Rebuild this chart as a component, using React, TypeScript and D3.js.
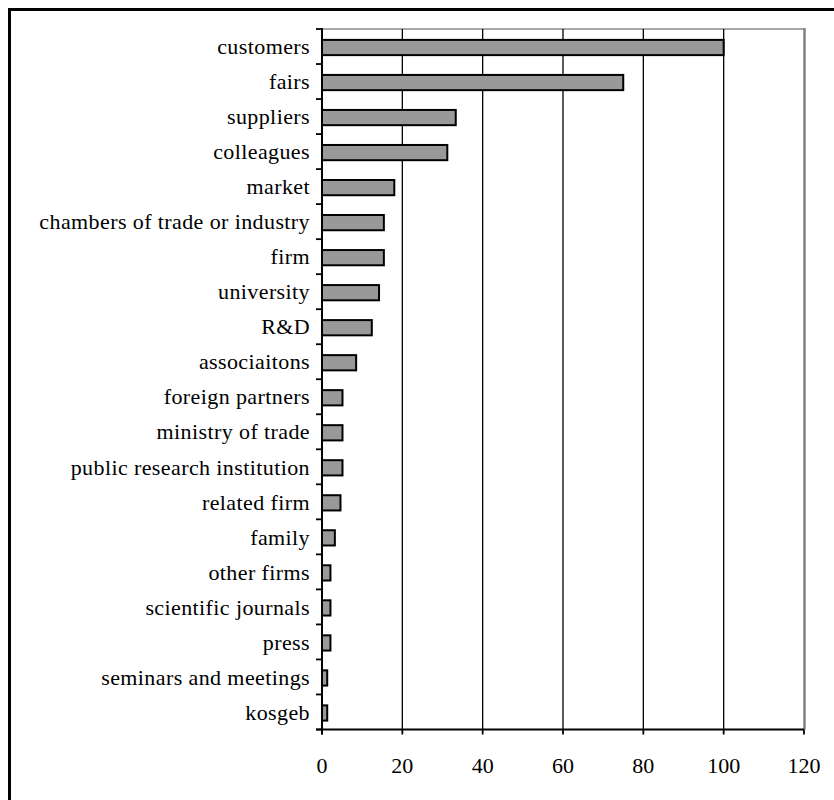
import React from "react";
import * as d3 from "d3";

const categories = [
  "customers",
  "fairs",
  "suppliers",
  "colleagues",
  "market",
  "chambers of trade or industry",
  "firm",
  "university",
  "R&D",
  "associaitons",
  "foreign partners",
  "ministry of trade",
  "public research institution",
  "related firm",
  "family",
  "other firms",
  "scientific journals",
  "press",
  "seminars and meetings",
  "kosgeb",
];
const values = [100, 75, 33.3, 31.2, 18, 15.4, 15.4, 14.2, 12.4, 8.5, 5.1, 5.1, 5.1, 4.6, 3.2, 2.1, 2.1, 2.1, 1.3, 1.3];
const xTicks = [0, 20, 40, 60, 80, 100, 120];

const W = 834;
const H = 800;
const left = 322;
const right = 804;
const top = 29;
const bottom = 729.5;
const font = "'Liberation Serif', 'Times New Roman', serif";

export default function App() {
  const x = d3.scaleLinear().domain([0, 120]).range([left, right]);
  const y = d3.scaleBand<string>().domain(categories).range([top, bottom]).paddingInner(0).paddingOuter(0);
  const bw = y.bandwidth();
  const barH = bw / 2.3;

  return (
    <svg width={W} height={H} style={{ position: "absolute", left: 0, top: 0 }}>
      <rect x={0} y={0} width={W} height={H} fill="#fff" />
      <rect x={9.5} y={9.5} width={W + 20} height={H + 20} fill="none" stroke="#000" strokeWidth={3} />
      {/* plot border top (light grey) and right (grey) */}
      <line x1={left} x2={right} y1={top} y2={top} stroke="#a8a8a8" strokeWidth={2} />
      <line x1={right + 0.5} x2={right + 0.5} y1={top - 1} y2={bottom} stroke="#808080" strokeWidth={2.5} />
      {/* gridlines */}
      {xTicks.slice(1, -1).map((t) => (
        <line key={"g" + t} x1={x(t)} x2={x(t)} y1={top} y2={bottom} stroke="#000" strokeWidth={1.3} />
      ))}
      {/* bars */}
      {categories.map((c, i) => (
        <rect
          key={c}
          x={x(0)}
          y={(y(c) as number) + bw / 2 - barH / 2 + 1}
          width={x(values[i]) - x(0)}
          height={barH}
          fill="#999999"
          stroke="#000"
          strokeWidth={2}
        />
      ))}
      {/* y axis */}
      <line x1={left} x2={left} y1={top - 1} y2={bottom + 5} stroke="#000" strokeWidth={2} />
      {d3.range(categories.length + 1).map((i) => {
        const yy = top + i * bw;
        return <line key={"yt" + i} x1={left - 6} x2={left} y1={yy} y2={yy} stroke="#000" strokeWidth={1.8} />;
      })}
      {categories.map((c) => (
        <text
          key={"l" + c}
          x={left - 12}
          y={(y(c) as number) + bw / 2}
          dy="0.35em"
          textAnchor="end"
          fontFamily={font}
          fontSize={22}
          letterSpacing={0.4}
          fill="#000"
        >
          {c}
        </text>
      ))}
      {/* x axis */}
      <line x1={left - 6} x2={right} y1={bottom} y2={bottom} stroke="#000" strokeWidth={2} />
      {xTicks.map((t) => (
        <line key={"xt" + t} x1={x(t)} x2={x(t)} y1={bottom} y2={bottom + 5} stroke="#000" strokeWidth={1.8} />
      ))}
      {xTicks.map((t) => (
        <text
          key={"xl" + t}
          x={x(t)}
          y={773}
          textAnchor="middle"
          fontFamily={font}
          fontSize={22}
          fill="#000"
        >
          {t}
        </text>
      ))}
    </svg>
  );
}
